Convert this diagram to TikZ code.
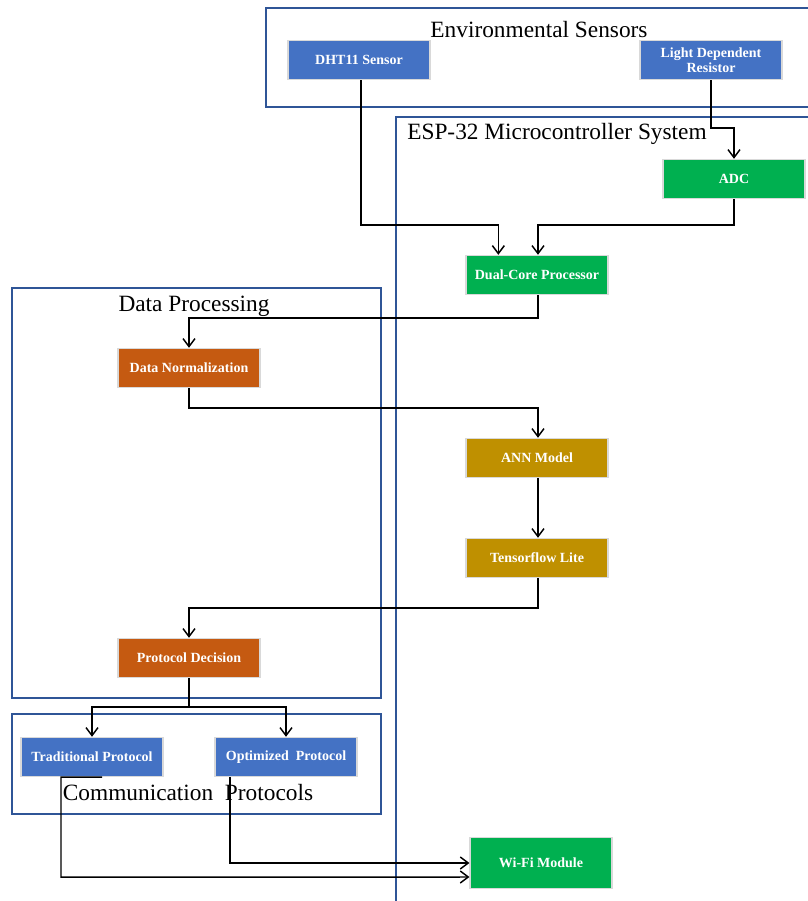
\documentclass[tikz,border=0pt]{standalone}
\usepackage{fontspec}
\setmainfont{Liberation Serif}
\usetikzlibrary{arrows.meta,positioning}
\definecolor{frameblue}{HTML}{2F5597}
\definecolor{nblue}{HTML}{4472C4}
\definecolor{ngreen}{HTML}{00B050}
\definecolor{norange}{HTML}{C55A11}
\definecolor{ngold}{HTML}{BF9000}
\tikzset{
  frame/.style={draw=frameblue, line width=1.6pt},
  ftitle/.style={font=\fontsize{17.5}{20}\selectfont, inner sep=0pt},
  box/.style={draw=black!15, line width=0.8pt, minimum width=106.5pt, minimum height=29.5pt,
    text=white, font=\bfseries\fontsize{10.5}{11}\selectfont, align=center, inner sep=1pt},
  arr/.style={draw=black, line width=1.1pt, -{Straight Barb[length=6pt,width=9pt,line width=1.1pt]}},
  ln/.style={draw=black, line width=1.1pt}
}
\begin{document}
\begin{tikzpicture}[x=0.75pt,y=-0.75pt]
\useasboundingbox (0,0) rectangle (808,901);
% containers
\draw[frame] (266,8) rectangle (820,107);
\draw[frame] (396,117) rectangle (820,915);
\draw[frame] (12,288) rectangle (381,698);
\draw[frame] (12,714) rectangle (381,814);
\node[ftitle] (tenv) at (539,30) {Environmental\ Sensors};
\node[ftitle] (tesp) at (557,134) {ESP-32\ Microcontroller\ System};
\node[ftitle] (tdp) at (194,306) {Data Processing};
\node[ftitle] (tcp) at (188,793) {Communication\ \ Protocols};
% nodes
\node[box, fill=nblue] (dht) at (359,60) {DHT11 Sensor};
\node[box, fill=nblue] (ldr) at (711,60) {Light Dependent\\Resistor};
\node[box, fill=ngreen] (adc) at (734,179) {ADC};
\node[box, fill=ngreen] (dual) at (537,275) {Dual-Core Processor};
\node[box, fill=norange] (norm) at (189,368) {Data Normalization};
\node[box, fill=ngold] (ann) at (537,458) {ANN Model};
\node[box, fill=ngold] (tf) at (537,558) {Tensorflow Lite};
\node[box, fill=norange] (dec) at (189,658) {Protocol Decision};
\node[box, fill=nblue] (trad) at (92,757) {Traditional Protocol};
\node[box, fill=nblue] (opt) at (286,757) {Optimized\ \ Protocol};
\node[box, fill=ngreen, minimum height=38pt] (wifi) at (541,863) {Wi-Fi Module};
% connectors
\draw[arr] ([xshift=1.5pt]dht.south) -- ++(0,145) -| ([xshift=-29pt]dual.north);
\draw[arr] (ldr.south) -- ++(0,48) -| (adc.north);
\draw[arr] (adc.south) -- ++(0,26) -| ([xshift=0.75pt]dual.north);
\draw[arr] ([xshift=0.75pt]dual.south) -- ++(0,23) -| (norm.north);
\draw[arr] (norm.south) -- ++(0,20) -| ([xshift=0.75pt]ann.north);
\draw[arr] ([xshift=0.75pt]ann.south) -- ([xshift=0.75pt]tf.north);
\draw[arr] ([xshift=0.75pt]tf.south) -- ++(0,30) -| (dec.north);
\draw[arr] (dec.south) -- ++(0,29) -| (trad.north);
\draw[arr] (dec.south) -- ++(0,29) -| (opt.north);
\draw[arr] ([xshift=7.5pt]trad.south) -| ++(-41,100) -- ([yshift=-10.5pt]wifi.west);
\draw[arr] ([xshift=-42pt]opt.south) |- (wifi.west);
\end{tikzpicture}
\end{document}
